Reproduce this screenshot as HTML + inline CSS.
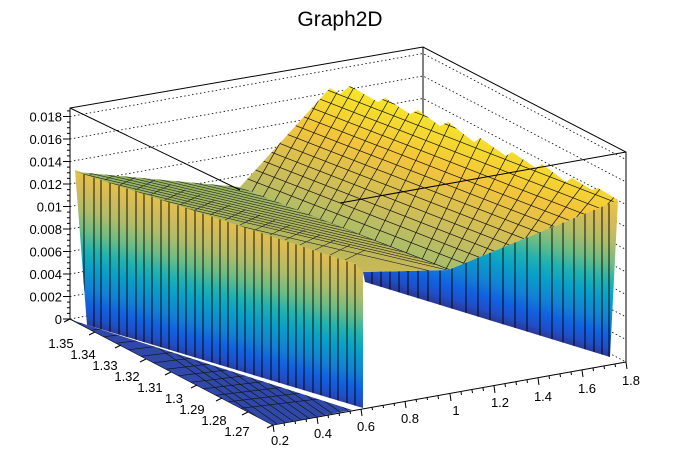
<!DOCTYPE html>
<html><head><meta charset="utf-8"><style>
html,body{margin:0;padding:0;background:#fff;}
svg{display:block;font-family:"Liberation Sans",sans-serif;}
</style></head><body>
<svg width="696" height="472" viewBox="0 0 696 472" xmlns="http://www.w3.org/2000/svg">
<defs>
<linearGradient id="wallL" gradientUnits="userSpaceOnUse" x1="87" y1="325" x2="145.8" y2="135.3">
<stop offset="0" stop-color="#2a3a98"/>
<stop offset="0.04" stop-color="#1f4fc8"/>
<stop offset="0.1" stop-color="#1160e0"/>
<stop offset="0.18" stop-color="#1282d4"/>
<stop offset="0.28" stop-color="#08a0c8"/>
<stop offset="0.36" stop-color="#20b2b0"/>
<stop offset="0.45" stop-color="#6cbc84"/>
<stop offset="0.55" stop-color="#b0bc68"/>
<stop offset="0.65" stop-color="#d4bb58"/>
<stop offset="0.8" stop-color="#f5c83a"/>
<stop offset="1" stop-color="#f8f510"/>
</linearGradient>
<linearGradient id="wallR" gradientUnits="userSpaceOnUse" x1="610" y1="357" x2="669.5" y2="167.7">
<stop offset="0" stop-color="#2a3a98"/>
<stop offset="0.04" stop-color="#1f4fc8"/>
<stop offset="0.1" stop-color="#1160e0"/>
<stop offset="0.18" stop-color="#1282d4"/>
<stop offset="0.28" stop-color="#08a0c8"/>
<stop offset="0.36" stop-color="#20b2b0"/>
<stop offset="0.45" stop-color="#6cbc84"/>
<stop offset="0.55" stop-color="#b0bc68"/>
<stop offset="0.65" stop-color="#d4bb58"/>
<stop offset="0.8" stop-color="#f5c83a"/>
<stop offset="1" stop-color="#f8f510"/>
</linearGradient>
<linearGradient id="top" gradientUnits="userSpaceOnUse" x1="380" y1="90" x2="330" y2="250">
<stop offset="0" stop-color="#f6ea24"/>
<stop offset="0.35" stop-color="#f2c43c"/>
<stop offset="0.7" stop-color="#c6bc5e"/>
<stop offset="1" stop-color="#98be70"/>
</linearGradient>
<linearGradient id="plat" gradientUnits="userSpaceOnUse" x1="0" y1="170" x2="0" y2="270">
<stop offset="0" stop-color="#8fb464"/>
<stop offset="1" stop-color="#c8b858"/>
</linearGradient>
<clipPath id="cWallL"><polygon points="75,170 355,264 363,270 363,408 87,325"/></clipPath>
<clipPath id="cWallR"><polygon points="363,272 448,270 618,200 610,357 365,282"/></clipPath>
<clipPath id="cTop"><polygon points="240,187 330,88 340,94 350,86 378,102 385,98 410,114 418,110 440,126 448,122 474,142 480,138 506,156 512,152 536,168 542,164 566,182 572,178 592,190 598,188 618,200 448,270"/></clipPath>
<clipPath id="cPlat"><polygon points="77,172 240,187 448,270 363,272 355,264"/></clipPath>
<clipPath id="cFloor"><polygon points="72,320 273,425 352,410 87,325"/></clipPath>
</defs>

<text x="340" y="26" font-size="21" text-anchor="middle">Graph2D</text>

<g stroke="#000" stroke-width="0.8" stroke-dasharray="1.5,2.5" fill="none">
<polyline points="70,319 423,256 626,362"/>
<polyline points="70,296.5 423,233.5 626,339.5"/>
<polyline points="70,274 423,211 626,317"/>
<polyline points="70,251.5 423,188.5 626,294.5"/>
<polyline points="70,229 423,166 626,272"/>
<polyline points="70,206.5 423,143.5 626,249.5"/>
<polyline points="70,184 423,121 626,227"/>
<polyline points="70,161.5 423,98.5 626,204.5"/>
<polyline points="70,139 423,76 626,182"/>
<polyline points="70,116.5 423,53.5 626,159.5"/>
</g>
<g stroke="#000" stroke-width="1" fill="none">
<polyline points="70,319 70,108 423,47 626,152 626,362"/>
<line x1="423" y1="47" x2="423" y2="256"/>
<polyline points="70,319 273,425 626,362"/>
</g>

<polygon points="72,320 273,425 352,410 87,325" fill="#3048a8"/>
<g clip-path="url(#cFloor)" stroke="#111" stroke-width="0.6">
<path d="M60,326 L360,290 M60,334 L360,298 M60,342 L360,306 M60,350 L360,314 M60,358 L360,322 M60,366 L360,330 M60,374 L360,338 M60,382 L360,346 M60,390 L360,354 M60,398 L360,362 M60,406 L360,370 M60,414 L360,378 M60,422 L360,386 M60,430 L360,394"/>
<path d="M90,300 L290,440 M100,300 L300,440 M110,300 L310,440 M120,300 L320,440 M130,300 L330,440 M140,300 L340,440 M150,300 L350,440 M160,300 L360,440 M170,300 L370,440 M180,300 L380,440 M190,300 L390,440 M200,300 L400,440 M210,300 L410,440 M220,300 L420,440 M230,300 L430,440 M240,300 L440,440 M250,300 L450,440 M260,300 L460,440"/>
</g>

<polygon points="75,170 355,264 363,270 363,408 87,325" fill="url(#wallL)"/>
<g clip-path="url(#cWallL)" stroke="#000" stroke-width="0.9">
<path d="M84,160V420M94,160V420M101,160V420M110,160V420M119,160V420M127,160V420M136,160V420M144,160V420M152,160V420M161,160V420M169,160V420M178,160V420M186,160V420M195,160V420M203,160V420M212,160V420M220,160V420M228,160V420M237,160V420M245,160V420M254,160V420M262,160V420M271,160V420M279,160V420M288,160V420M296,160V420M304,160V420M313,160V420M321,160V420M330,160V420M338,160V420M347,160V420M355,160V420"/>
</g>

<polygon points="363,272 448,270 618,200 610,357 365,282" fill="url(#wallR)"/>
<g clip-path="url(#cWallR)" stroke="#000" stroke-width="0.9">
<path d="M372,200V380M381,200V380M390,200V380M399,200V380M408,200V380M418,200V380M428,200V380M440,200V380M452,200V380M466,200V380M478,200V380M490,200V380M503,200V380M515,200V380M527,200V380M540,200V380M552,200V380M563,200V380M574,200V380M585,200V380M594,200V380M602,200V380M609,200V380"/>
</g>

<polygon points="77,172 240,187 448,270 363,272 355,264" fill="url(#plat)"/>
<g clip-path="url(#cPlat)" stroke="#222" stroke-width="0.6">
<path d="M70,176 L460,268 M70,181 L460,273 M70,186 L460,278 M70,171 L460,263 M70,166 L460,258 M70,161 L460,253 M70,156 L460,248 M70,151 L460,243 M70,146 L460,238 M70,141 L460,233 M70,136 L460,228 M70,131 L460,223 M70,126 L460,218 M70,121 L460,213 M70,116 L460,208 M70,178.5 L460,270.5 M70,173.5 L460,265.5 M70,168.5 L460,260.5 M70,163.5 L460,255.5 M70,158.5 L460,250.5 M70,153.5 L460,245.5 M70,148.5 L460,240.5 M70,143.5 L460,235.5"/>
<path d="M90,175 L110,165 M105,180 L125,170 M120,185 L140,175 M135,190 L155,180 M150,195 L170,185 M165,200 L185,190 M180,205 L200,195 M195,210 L215,200 M210,215 L230,205 M225,220 L245,210 M240,225 L260,215 M255,230 L275,220 M270,235 L290,225 M285,240 L305,230 M300,245 L320,235 M315,250 L335,240 M330,255 L350,245 M345,260 L365,250"/>
</g>

<polygon points="240,187 330,88 340,94 350,86 378,102 385,98 410,114 418,110 440,126 448,122 474,142 480,138 506,156 512,152 536,168 542,164 566,182 572,178 592,190 598,188 618,200 448,270" fill="url(#top)"/>
<g clip-path="url(#cTop)" stroke="#111" stroke-width="0.7">
<path d="M230,100 L640,260 M230,88 L640,248 M230,76 L640,236 M230,112 L640,272 M230,124 L640,284 M230,136 L640,296 M230,148 L640,308 M230,160 L640,320 M230,172 L640,332 M230,184 L640,344 M230,196 L640,356 M230,64 L640,224 M230,52 L640,212 M230,40 L640,200"/>
<path d="M322,70 L230,230 M336,70 L244,230 M350,70 L258,230 M364,70 L272,230 M378,70 L286,230 M392,70 L300,230 M406,70 L314,230 M420,70 L328,230 M434,70 L342,230 M448,70 L356,240 M462,70 L370,250 M476,70 L384,260 M490,80 L398,270 M504,90 L412,280 M518,100 L426,280 M532,110 L440,280 M546,120 L454,280 M560,130 L468,280 M574,140 L482,280 M588,150 L496,280 M602,160 L510,280 M616,170 L524,280 M630,180 L538,280"/>
</g>

<g stroke="#000" stroke-width="1">
<line x1="70" y1="108" x2="240" y2="190"/>
<line x1="626" y1="152" x2="340" y2="203"/>
</g>

<g stroke="#000" stroke-width="1">
<path d="M70,319h-7M70,296.5h-7M70,274h-7M70,251.5h-7M70,229h-7M70,206.5h-7M70,184h-7M70,161.5h-7M70,139h-7M70,116.5h-7"/>
<path d="M70,313.4h-3M70,307.8h-3M70,302.1h-3M70,290.9h-3M70,285.3h-3M70,279.6h-3M70,268.4h-3M70,262.8h-3M70,257.1h-3M70,245.9h-3M70,240.3h-3M70,234.6h-3M70,223.4h-3M70,217.8h-3M70,212.1h-3M70,200.9h-3M70,195.3h-3M70,189.6h-3M70,178.4h-3M70,172.8h-3M70,167.1h-3M70,155.9h-3M70,150.3h-3M70,144.6h-3M70,133.4h-3M70,127.8h-3M70,122.1h-3M70,110.9h-3"/>
</g>
<g font-size="13" text-anchor="end">
<text x="62" y="324">0</text>
<text x="62" y="301.5">0.002</text>
<text x="62" y="279">0.004</text>
<text x="62" y="256.5">0.006</text>
<text x="62" y="234">0.008</text>
<text x="62" y="211.5">0.01</text>
<text x="62" y="189">0.012</text>
<text x="62" y="166.5">0.014</text>
<text x="62" y="144">0.016</text>
<text x="62" y="121.5">0.018</text>
</g>

<g stroke="#000" stroke-width="1">
<path d="M70,319l-6,3M95,332l-6,3M121,345l-6,3M146,359l-6,3M171,372l-6,3M197,385l-6,3M222,398l-6,3M248,412l-6,3M273,425l-6,3"/>
</g>
<g font-size="13" text-anchor="middle">
<text x="61" y="348">1.35</text>
<text x="83" y="359">1.34</text>
<text x="105" y="370">1.33</text>
<text x="127" y="381">1.32</text>
<text x="150" y="392">1.31</text>
<text x="174" y="403">1.3</text>
<text x="192" y="414">1.29</text>
<text x="214" y="425">1.28</text>
<text x="237" y="436">1.27</text>
</g>

<g stroke="#000" stroke-width="1">
<path d="M273,425l1,7M317,417l1,7M361,409l1,7M405,401l1,7M450,394l1,7M494,386l1,7M538,378l1,7M582,370l1,7M626,362l1,7"/>
<path d="M284,423l0.5,3M295,421l0.5,3M306,419l0.5,3M328,415l0.5,3M339,413l0.5,3M350,411l0.5,3M372,407l0.5,3M383,405l0.5,3M394,403l0.5,3M416,399l0.5,3M427,397l0.5,3M438,396l0.5,3M461,392l0.5,3M472,390l0.5,3M483,388l0.5,3M505,384l0.5,3M516,382l0.5,3M527,380l0.5,3M549,376l0.5,3M560,374l0.5,3M571,372l0.5,3M593,368l0.5,3M604,366l0.5,3M615,364l0.5,3"/>
</g>
<g font-size="13" text-anchor="middle">
<text x="280" y="445">0.2</text>
<text x="323" y="438">0.4</text>
<text x="366" y="431">0.6</text>
<text x="410" y="423">0.8</text>
<text x="456" y="415">1</text>
<text x="500" y="407">1.2</text>
<text x="543" y="401">1.4</text>
<text x="587" y="393">1.6</text>
<text x="631" y="385">1.8</text>
</g>
</svg>
</body></html>
